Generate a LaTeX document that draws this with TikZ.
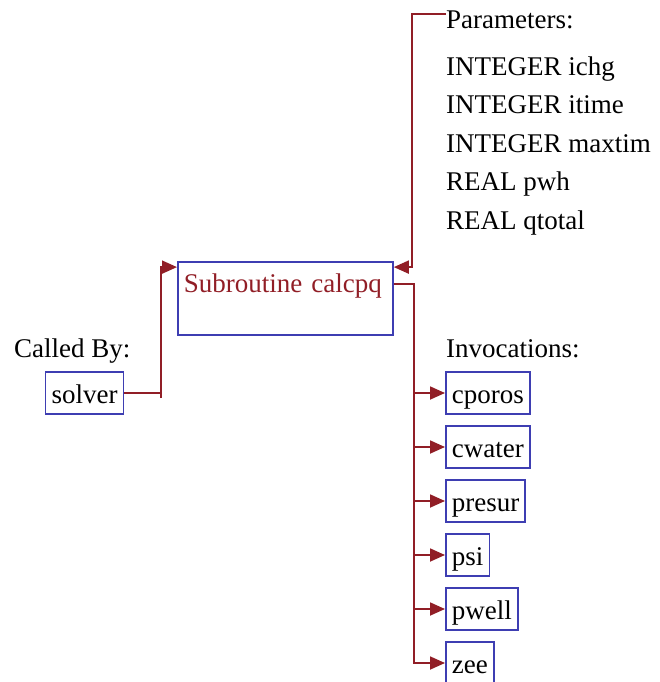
\documentclass[tikz,border=0pt]{standalone}
\usepackage{fontspec}
\setmainfont{Liberation Serif}
\usetikzlibrary{arrows.meta,positioning,calc}
\definecolor{wirered}{RGB}{145,30,38}
\definecolor{boxblue}{RGB}{62,62,178}
\tikzset{
  routine/.style={draw=boxblue,line width=1.8pt,inner xsep=6pt,inner ysep=0pt,
                  text height=22pt,text depth=2pt,minimum height=42pt,
                  font=\fontsize{27}{30}\selectfont},
  mainbox/.style={routine,text=wirered,text width=203pt,align=left,
                  text height=30pt,text depth=43pt,anchor=west},
  wire/.style   ={wirered,line width=1.8pt},
  call/.style   ={wire,-{Triangle[length=15pt,width=13pt]}},
  lbl/.style    ={font=\fontsize{27}{38.5}\selectfont,inner sep=0pt},
}

\begin{document}
\begin{tikzpicture}[x=1pt,y=-1pt]
  \useasboundingbox (0,0) rectangle (660,682);
  % the subroutine itself
  \node[mainbox] (calc) at (177,298.5) {Subroutine calcpq};
  % caller on the left
  \node[lbl,anchor=base west] (calledby) at (14,357) {Called By:};
  \node[routine] (solver) at (84.5,393) {solver};
  \draw[wire] (solver.east) -- ++(37,0) coordinate (sj);
  \draw[call] ($(sj)+(0,5)$) |- ($(calc.north west)+(0,6)$);
  % argument list (base = last line)
  \node[lbl,anchor=base west,align=left] (params) at (446,229)
    {Parameters:\\[8pt]INTEGER ichg\\INTEGER itime\\INTEGER maxtim\\REAL pwh\\REAL qtotal};
  \coordinate (pin) at (446,14);
  \draw[call] (pin) -- ++(-34,0) |- ($(calc.north east)+(0,6)$);
  % routines it calls
  \node[lbl,anchor=base west] (invlbl) at (446,357) {Invocations:};
  \foreach \nm [count=\i] in {cporos,cwater,presur,psi,pwell,zee}
    \node[routine,anchor=west] (inv\i) at (445,339+54*\i) {\nm};
  \draw[call] ($(calc.north east)+(0,23)$) -- ++(20,0) coordinate (tr) |- (inv6.west);
  \foreach \i in {1,...,5}
    \draw[call] (tr |- inv\i.west) -- (inv\i.west);
\end{tikzpicture}
\end{document}
